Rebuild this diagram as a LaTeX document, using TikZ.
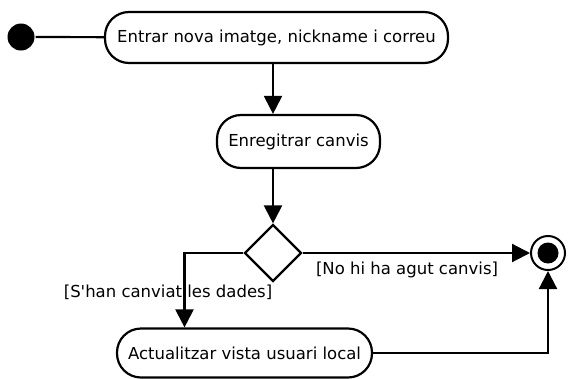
\documentclass[tikz,border=0pt]{standalone}
\usepackage{fontspec}
\newfontfamily\labelfont{DejaVu Sans}
\usetikzlibrary{arrows.meta,shapes.geometric}
\begin{document}
\begin{tikzpicture}[x=1pt,y=-1pt,
  line width=2.2pt,
  every node/.style={font=\labelfont\fontsize{16.5}{18}\selectfont, inner sep=0pt},
  action/.style={draw, rounded corners=24pt, align=center},
  flow/.style={-{Triangle[length=18pt,width=18pt]}},
  guard/.style={font=\labelfont\fontsize{16.5}{18}\selectfont},
]
\useasboundingbox (0,0) rectangle (570,378);

% start and end states
\node[circle, fill, minimum size=27pt] (start) at (21,37) {};
\node[circle, draw, line width=2pt, minimum size=34pt] (final) at (548,253) {};
\fill (final.center) circle (10.5pt);

% activities
\node[action, minimum width=343pt, minimum height=51pt] (a1) at (276.5,37.5)
  {Entrar nova imatge, nickname i correu};
\node[action, minimum width=163pt, minimum height=53pt] (a2) at (298.5,141.5)
  {Enregitrar canvis};
\node[action, minimum width=255pt, minimum height=49pt] (a3) at (244.5,353)
  {Actualitzar vista usuari local};

% decision
\node[diamond, draw, minimum width=57pt, minimum height=57pt] (d) at (273,253) {};

% connectors
\draw (start) -- (a1);
\draw[flow] (a1.south -| d.north) -- (a2.north -| d.north);
\draw[flow] (a2.south -| d.north) -- (d.north);
\draw[flow] (d.east) -- (final.west);
\coordinate (yes) at ([xshift=-60pt]a3.north);
\draw[flow] (d.west) -| (yes);
\draw[flow] (a3.east) -| (final.south);

% guards
\node[guard] (g1) at (407,270) {[No hi ha agut canvis]};
\node[guard] (g2) at (168,292) {[S'han canviat les dades]};
\end{tikzpicture}
\end{document}
